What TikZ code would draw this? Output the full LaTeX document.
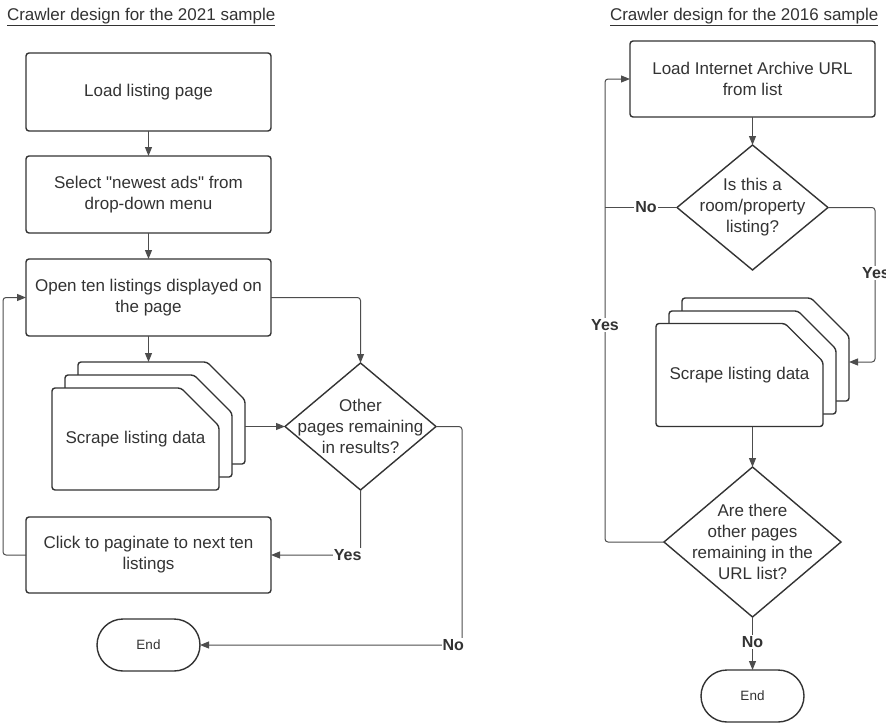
\documentclass[tikz,border=0pt]{standalone}
\usepackage{fontspec}
\setmainfont{Liberation Sans}[Ligatures=TeXOff]
\usetikzlibrary{arrows.meta,shapes.geometric}
\definecolor{ink}{HTML}{333333}
\definecolor{wire}{HTML}{4D4D4D}
\newcommand\docdraw[1]{\path[docline] (#1.north west) -- ([xshift=-38pt]#1.north east) -- ([yshift=-38pt]#1.north east) -- (#1.south east) -- (#1.south west) -- cycle;}
\begin{document}
\begin{tikzpicture}[x=1pt,y=-1pt,
  every node/.style={text=ink, font=\fontsize{17pt}{21pt}\selectfont, inner sep=0pt, outer sep=0pt},
  box/.style={draw=ink, line width=1.4pt, rounded corners=3pt, fill=white, minimum width=245pt, align=center},
  dia/.style={draw=ink, line width=1.4pt, diamond, fill=white},
  term/.style={draw=ink, line width=1.4pt, rounded corners=26pt, minimum width=103pt, minimum height=52pt, font=\fontsize{13.5pt}{16pt}\selectfont},
  docL/.style={minimum width=167pt, minimum height=102pt},
  docR/.style={minimum width=167pt, minimum height=103pt},
  docline/.style={draw=ink, line width=1.4pt, fill=white, rounded corners=3pt},
  conn/.style={draw=wire, line width=1pt, rounded corners=3pt, -{Triangle[length=9pt,width=7pt]}},
  plain/.style={draw=wire, line width=1pt, rounded corners=3pt},
  lab/.style={font=\bfseries\fontsize{16pt}{18pt}\selectfont, fill=white, inner sep=1pt},
  title/.style={anchor=base west, font=\fontsize{17pt}{20pt}\selectfont}
]
\clip (0,0) rectangle (886,723);
\fill[white] (0,0) rectangle (886,723);

% titles
\node[title] (t1) at (7,20) {\underline{Crawler design for the 2021 sample}};
\node[title] (t2) at (610,20) {\underline{Crawler design for the 2016 sample}};

% ---------- left flow ----------
\node[box, minimum height=78pt] (b1) at (148.5,92) {Load listing page};
\node[box, minimum height=77pt] (b2) at (148.5,194.5) {Select "newest ads" from\\drop-down menu};
\node[box, minimum height=77pt] (b3) at (148.5,297.5) {Open ten listings displayed on\\the page};
\node[box, minimum height=76pt] (b4) at (148.5,555) {Click to paginate to next ten\\listings};
\node[term] (tL) at (148.5,645) {End};

\node[docL] (bL) at (161.5,413) {};
\node[docL] (mL) at (148.5,426) {};
\node[docL] (fL) at (135.5,439) {};
\docdraw{bL}\docdraw{mL}\docdraw{fL}
\node (sL) at (fL.center) {Scrape listing data};

\node[dia, minimum width=151pt, minimum height=127pt] (dL) at (360.5,426.5) {};
\node[align=center] (dLt) at (dL.center) {Other\\pages remaining\\in results?};

\coordinate (yesL) at (dL.south |- b4.east);
\coordinate (noL) at (462,645);

\draw[conn] (b1.south) -- (b2.north);
\draw[conn] (b2.south) -- (b3.north);
\draw[conn] (b3.south) -- (b3.south |- bL.north);
\draw[conn] (b3.east) -| (dL.north);
\draw[conn] (dL.west -| bL.east) -- (dL.west);
\draw[conn] (dL.south) |- (b4.east);
\draw[conn] (dL.east) -| (noL) -- (tL.east);
\draw[conn] (b4.west) -- ++(-23,0) |- (b3.west);
\node[lab, anchor=east] (lyL) at ([xshift=2pt]yesL) {Yes};
\node[lab, anchor=east] (lnL) at ([xshift=3pt]noL) {No};

% ---------- right flow ----------
\node[box, minimum height=76pt] (r1) at (752.5,79) {Load Internet Archive URL\\from list};
\node[dia, minimum width=151pt, minimum height=125pt] (dR1) at (752.5,207.5) {};
\node[align=center] (dR1t) at (dR1.center) {Is this a\\room/property\\listing?};

\node[docR] (bR) at (765.5,349.5) {};
\node[docR] (mR) at (752.5,362.5) {};
\node[docR] (fR) at (739.5,375) {};
\docdraw{bR}\docdraw{mR}\docdraw{fR}
\node (sR) at (fR.center) {Scrape listing data};

\node[dia, minimum width=177pt, minimum height=150pt] (dR2) at (752.5,542) {};
\node[align=center] (dR2t) at (dR2.center) {Are there\\other pages\\remaining in the\\URL list?};
\node[term] (tR) at (752.5,696) {End};

\coordinate (loopx) at (605,79);
\coordinate (rightx) at (875,362);

\draw[conn] (r1.south) -- (dR1.north);
\draw[plain] (dR1.west) -- (dR1.west -| loopx);
\draw[conn] (dR2.west) -| (loopx) -- (r1.west);
\draw[conn] (dR1.east) -| (rightx) -- (rightx -| bR.east);
\draw[conn] (dR2.north |- fR.south) -- (dR2.north);
\draw[conn] (dR2.south) -- (tR.north);
\node[lab] (lnR1) at (646,207.5) {No};
\node[lab] (lyR2) at (605,325) {Yes};
\node[lab] (lyR1) at (876,273) {Yes};
\node[lab] (lnR2) at (752.5,642) {No};
\end{tikzpicture}
\end{document}
